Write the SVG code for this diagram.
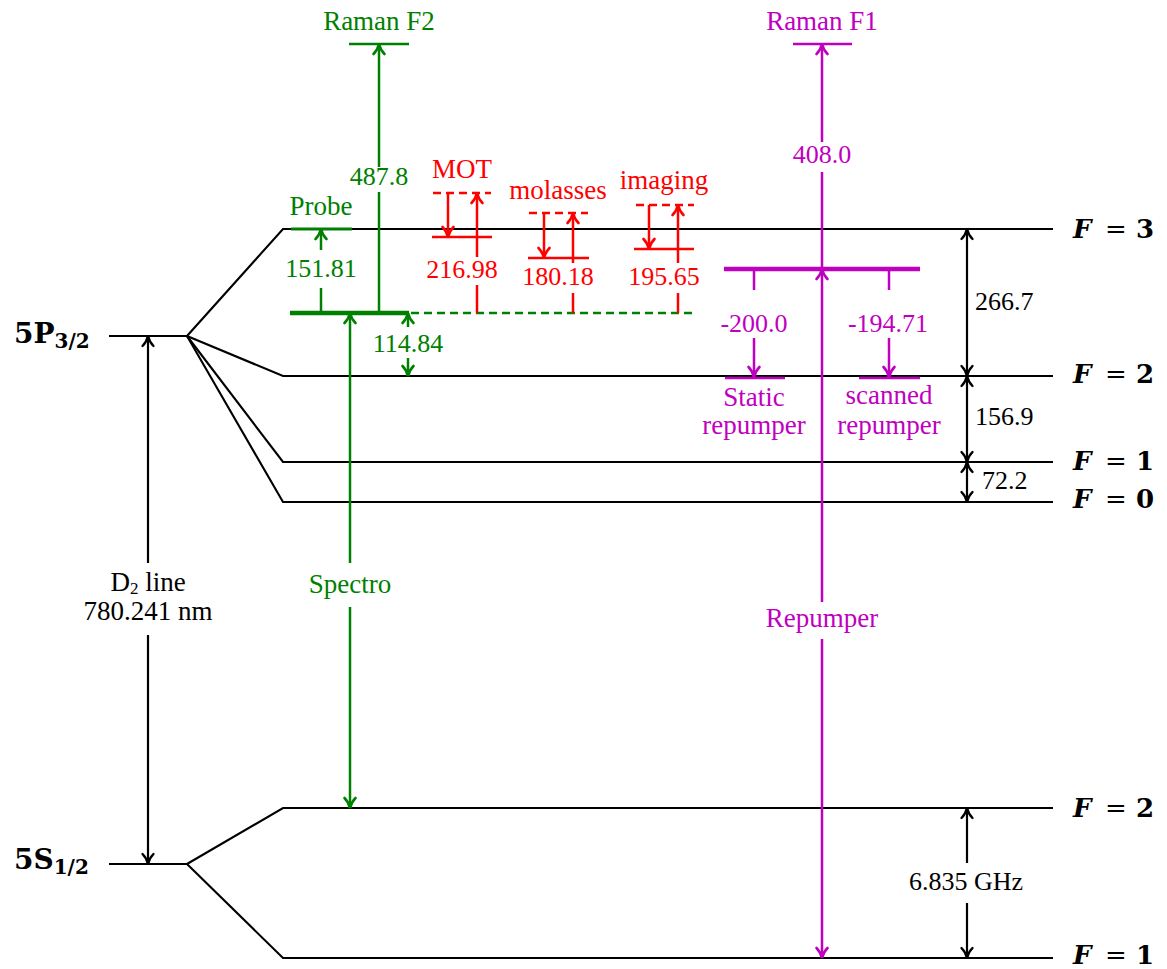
<svg xmlns="http://www.w3.org/2000/svg" width="1167" height="969" viewBox="0 0 1167 969">
<style>
.lv{fill:none;stroke:#000;stroke-width:2.1}
.k{fill:none;stroke:#000;stroke-width:2.2}
.gr{fill:none;stroke:#008000;stroke-width:2.5}
.rd{fill:none;stroke:#ff0000;stroke-width:2.5}
.mg{fill:none;stroke:#bf00bf;stroke-width:2.5}
.w4{stroke-width:4.5}
.w3{stroke-width:3.2}
.dash{stroke-dasharray:8 5}
text{font-family:"Liberation Serif","Times New Roman",serif;font-size:27px;text-anchor:middle}
.n{font-size:26px}
.tg{fill:#008000}
.tr{fill:#ff0000}
.tm{fill:#bf00bf}
.tk{fill:#000}
.st{font-family:"DejaVu Serif",serif;font-weight:bold;text-anchor:start;font-size:28px}
.fl{font-family:"DejaVu Serif",serif;font-weight:bold;text-anchor:start;font-size:26px}
.l{text-anchor:start}
</style>
<defs>
<marker id="ak" markerUnits="userSpaceOnUse" markerWidth="26" markerHeight="26" viewBox="-13 -13 26 26" refX="0" refY="0" orient="auto-start-reverse"><path d="M-10 -5.5 C-7 -2.5 -3 -0.7 0 0 C-3 0.7 -7 2.5 -10 5.5" fill="none" stroke="#000" stroke-width="2.4" stroke-linecap="round"/></marker>
<marker id="ag" markerUnits="userSpaceOnUse" markerWidth="26" markerHeight="26" viewBox="-13 -13 26 26" refX="0" refY="0" orient="auto-start-reverse"><path d="M-10 -5.5 C-7 -2.5 -3 -0.7 0 0 C-3 0.7 -7 2.5 -10 5.5" fill="none" stroke="#008000" stroke-width="2.6" stroke-linecap="round"/></marker>
<marker id="ar" markerUnits="userSpaceOnUse" markerWidth="26" markerHeight="26" viewBox="-13 -13 26 26" refX="0" refY="0" orient="auto-start-reverse"><path d="M-10 -5.5 C-7 -2.5 -3 -0.7 0 0 C-3 0.7 -7 2.5 -10 5.5" fill="none" stroke="#ff0000" stroke-width="2.6" stroke-linecap="round"/></marker>
<marker id="am" markerUnits="userSpaceOnUse" markerWidth="26" markerHeight="26" viewBox="-13 -13 26 26" refX="0" refY="0" orient="auto-start-reverse"><path d="M-10 -5.5 C-7 -2.5 -3 -0.7 0 0 C-3 0.7 -7 2.5 -10 5.5" fill="none" stroke="#bf00bf" stroke-width="2.6" stroke-linecap="round"/></marker>
</defs>
<rect width="1167" height="969" fill="#fff"/>

<g id="level-5P32">
<path class="lv" d="M109 336 H187"/>
<text class="st tk" x="14" y="343">5P<tspan font-size="20" dy="5">3/2</tspan></text>
</g>
<g id="level-P-F3">
<path class="lv" d="M187 336 L283 229 H1053"/>
<text class="fl tk" y="238"><tspan x="1073" font-style="italic">F</tspan><tspan x="1105" font-weight="normal">=</tspan><tspan x="1136">3</tspan></text>
</g>
<g id="level-P-F2">
<path class="lv" d="M187 336 L283 376 H1053"/>
<text class="fl tk" y="383"><tspan x="1073" font-style="italic">F</tspan><tspan x="1105" font-weight="normal">=</tspan><tspan x="1136">2</tspan></text>
</g>
<g id="level-P-F1">
<path class="lv" d="M187 336 L283 462 H1053"/>
<text class="fl tk" y="470"><tspan x="1073" font-style="italic">F</tspan><tspan x="1105" font-weight="normal">=</tspan><tspan x="1136">1</tspan></text>
</g>
<g id="level-P-F0">
<path class="lv" d="M187 336 L283 502 H1053"/>
<text class="fl tk" y="508"><tspan x="1073" font-style="italic">F</tspan><tspan x="1105" font-weight="normal">=</tspan><tspan x="1136">0</tspan></text>
</g>
<g id="level-5S12">
<path class="lv" d="M109 864 H187"/>
<text class="st tk" x="14" y="869">5S<tspan font-size="20" dy="5">1/2</tspan></text>
</g>
<g id="level-S-F2">
<path class="lv" d="M187 864 L283 808 H1053"/>
<text class="fl tk" y="817"><tspan x="1073" font-style="italic">F</tspan><tspan x="1105" font-weight="normal">=</tspan><tspan x="1136">2</tspan></text>
</g>
<g id="level-S-F1">
<path class="lv" d="M187 864 L283 958 H1053"/>
<text class="fl tk" y="964"><tspan x="1073" font-style="italic">F</tspan><tspan x="1105" font-weight="normal">=</tspan><tspan x="1136">1</tspan></text>
</g>

<g id="green-levels">
<path class="gr w3" d="M291 229 H352"/>
<path class="gr w4" d="M290 313 H409"/>
<path class="gr dash" d="M411 313 H695"/>
<path class="gr" d="M349 44 H409"/>
<text class="tg" x="321" y="215">Probe</text>
<text class="tg" x="379" y="30">Raman F2</text>
</g>

<g id="red-levels">
<path class="rd dash" d="M433 193 H491"/>
<path class="rd" d="M432 237 H492"/>
<path class="rd dash" d="M529 213 H588"/>
<path class="rd" d="M528 258 H589"/>
<path class="rd dash" d="M636 205 H694"/>
<path class="rd" d="M634 249 H694"/>
<text class="tr" x="462" y="178">MOT</text>
<text class="tr" x="558" y="199">molasses</text>
<text class="tr" x="664" y="189">imaging</text>
</g>

<g id="magenta-levels">
<path class="mg w4" d="M724 269 H920"/>
<path class="mg" d="M725 378 H785"/>
<path class="mg" d="M859 378 H920"/>
<path class="mg" d="M793 44 H852"/>
<text class="tm" x="822" y="30">Raman F1</text>
<text class="tm" x="754" y="406">Static</text>
<text class="tm" x="754" y="434">repumper</text>
<text class="tm" x="889" y="404">scanned</text>
<text class="tm" x="889" y="434">repumper</text>
</g>

<g id="connectors">
<path class="k" d="M148 336 V563" marker-start="url(#ak)"/>
<path class="k" d="M148 635 V864" marker-end="url(#ak)"/>
<path class="k" d="M967 229 V376" marker-start="url(#ak)" marker-end="url(#ak)"/>
<path class="k" d="M967 376 V462" marker-start="url(#ak)" marker-end="url(#ak)"/>
<path class="k" d="M967 462 V502" marker-start="url(#ak)" marker-end="url(#ak)"/>
<path class="k" d="M967 808 V863" marker-start="url(#ak)"/>
<path class="k" d="M967 903 V958" marker-end="url(#ak)"/>

<path class="gr" d="M321 313 V288"/>
<path class="gr" d="M321 250 V229" marker-end="url(#ag)"/>
<path class="gr" d="M379 313 V192"/>
<path class="gr" d="M379 167 V44" marker-end="url(#ag)"/>
<path class="gr" d="M350 313 V563" marker-start="url(#ag)"/>
<path class="gr" d="M350 607 V808" marker-end="url(#ag)"/>
<path class="gr" d="M408 313 V327" marker-start="url(#ag)"/>
<path class="gr" d="M408 358 V376" marker-end="url(#ag)"/>

<path class="rd" d="M448 193 V237" marker-end="url(#ar)"/>
<path class="rd" d="M477 313 V285"/>
<path class="rd" d="M477 257 V193" marker-end="url(#ar)"/>
<path class="rd" d="M544 213 V258" marker-end="url(#ar)"/>
<path class="rd" d="M573 313 V293"/>
<path class="rd" d="M573 263 V213" marker-end="url(#ar)"/>
<path class="rd" d="M649 205 V249" marker-end="url(#ar)"/>
<path class="rd" d="M678 313 V293"/>
<path class="rd" d="M678 263 V205" marker-end="url(#ar)"/>

<path class="mg" d="M754 269 V290"/>
<path class="mg" d="M754 338 V377" marker-end="url(#am)"/>
<path class="mg" d="M889 269 V290"/>
<path class="mg" d="M889 338 V377" marker-end="url(#am)"/>
<path class="mg" d="M822 269 V602" marker-start="url(#am)"/>
<path class="mg" d="M822 639 V958" marker-end="url(#am)"/>
<path class="mg" d="M822 269 V172"/>
<path class="mg" d="M822 142 V44" marker-end="url(#am)"/>

<text class="tk" x="148" y="591">D<tspan font-size="17" dy="3">2</tspan><tspan dy="-3"> line</tspan></text>
<text class="tk" x="148" y="620">780.241 nm</text>
<text class="tk l n" x="975" y="310">266.7</text>
<text class="tk l n" x="975" y="425">156.9</text>
<text class="tk l n" x="982" y="489">72.2</text>
<text class="tk n" x="966" y="890">6.835 GHz</text>

<text class="tg n" x="321" y="277">151.81</text>
<text class="tg n" x="379" y="185">487.8</text>
<text class="tg n" x="408" y="352">114.84</text>
<text class="tg" x="350" y="593">Spectro</text>

<text class="tr n" x="462" y="278">216.98</text>
<text class="tr n" x="558" y="285">180.18</text>
<text class="tr n" x="664" y="285">195.65</text>

<text class="tm n" x="754" y="332">-200.0</text>
<text class="tm n" x="888" y="332">-194.71</text>
<text class="tm n" x="822" y="163">408.0</text>
<text class="tm" x="822" y="627">Repumper</text>
</g>
</svg>
